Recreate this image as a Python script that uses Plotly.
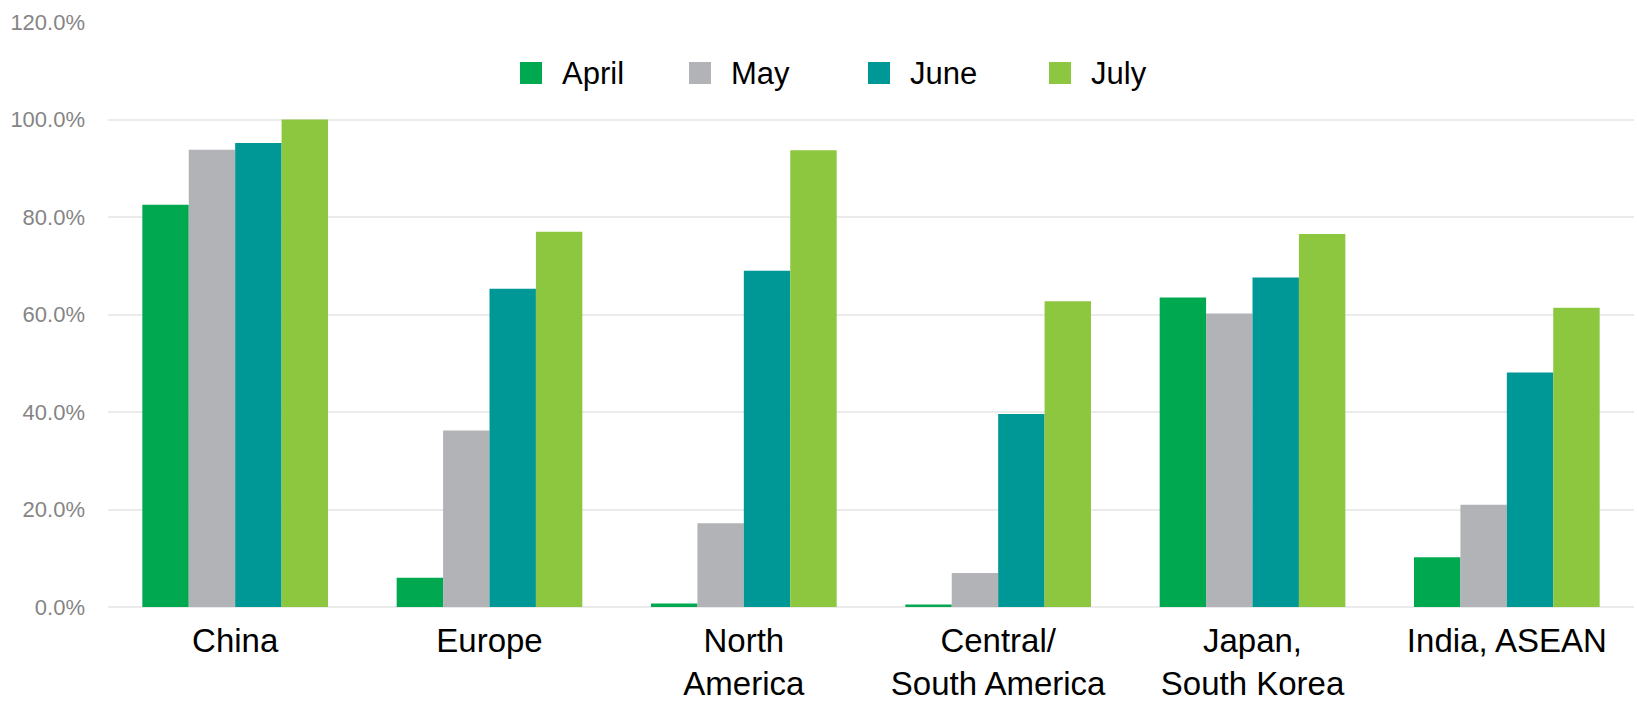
import plotly.graph_objects as go

regions = ["China", "Europe", "North<br>America", "Central/<br>South America",
           "Japan,<br>South Korea", "India, ASEAN"]
months = ["April", "May", "June", "July"]
april = [82.5, 6.0, 0.7, 0.5, 63.5, 10.2]
may = [93.8, 36.2, 17.2, 7.0, 60.2, 21.0]
june = [95.2, 65.3, 69.0, 39.6, 67.6, 48.1]
july = [100.0, 77.0, 93.7, 62.7, 76.5, 61.4]
y_ticks = [0, 20, 40, 60, 80, 100, 120]
y_tick_labels = [f"{v:.1f}%" for v in y_ticks]

series = [april, may, june, july]
colors = ["#00A84F", "#B1B3B6", "#009797", "#8DC63F"]

W, H = 1637, 708
ML, MR, MT, MB = 108, 3, 22, 101
PW, PH = W - ML - MR, H - MT - MB

fig = go.Figure()
for name, vals, col in zip(months, series, colors):
    fig.add_trace(go.Bar(name=name, x=regions, y=vals, marker_color=col,
                         marker_line_width=0, showlegend=False))

def px_x(p):
    return (p - ML) / PW

def px_y(p):
    return (H - MB - p) / PH

shapes = []
annotations = []
# soften top gridline behind legend area
shapes.append(dict(type="rect", xref="paper", yref="paper",
                   x0=px_x(458), x1=px_x(1192), y0=px_y(30), y1=px_y(14),
                   fillcolor="white", opacity=0.85, line_width=0, layer="below"))
legend_left = [520, 689, 868, 1049]
sq = 22
cy = 73
for name, col, lx in zip(months, colors, legend_left):
    shapes.append(dict(type="rect", xref="paper", yref="paper",
                       x0=px_x(lx), x1=px_x(lx + sq),
                       y0=px_y(cy + sq / 2), y1=px_y(cy - sq / 2),
                       fillcolor=col, line_width=0, layer="above"))
    annotations.append(dict(text=name, xref="paper", yref="paper",
                            x=px_x(lx + 40), y=px_y(cy), xanchor="left",
                            yanchor="middle", showarrow=False,
                            font=dict(size=31, color="#000000",
                                      family="Liberation Sans, Arial, sans-serif")))

fig.update_layout(
    width=W, height=H,
    margin=dict(l=ML, r=MR, t=MT, b=MB, pad=0),
    paper_bgcolor="white", plot_bgcolor="white",
    barmode="group", bargap=0.27, bargroupgap=0,
    font=dict(family="Liberation Sans, Arial, sans-serif"),
    shapes=shapes, annotations=annotations,
    xaxis=dict(tickfont=dict(size=33, color="#000000"), showgrid=False,
               showline=False, ticks="", ticklabelstandoff=11, automargin=False),
    yaxis=dict(range=[0, 120], tickmode="array", tickvals=y_ticks,
               ticktext=y_tick_labels,
               tickfont=dict(size=22, color="#858585"),
               showgrid=True, gridcolor="#ebebeb", gridwidth=1.5,
               zeroline=True, zerolinecolor="#ebebeb", zerolinewidth=1.5,
               showline=False, ticks="", ticklabelstandoff=22, automargin=False),
)

fig.write_html("out.html")
